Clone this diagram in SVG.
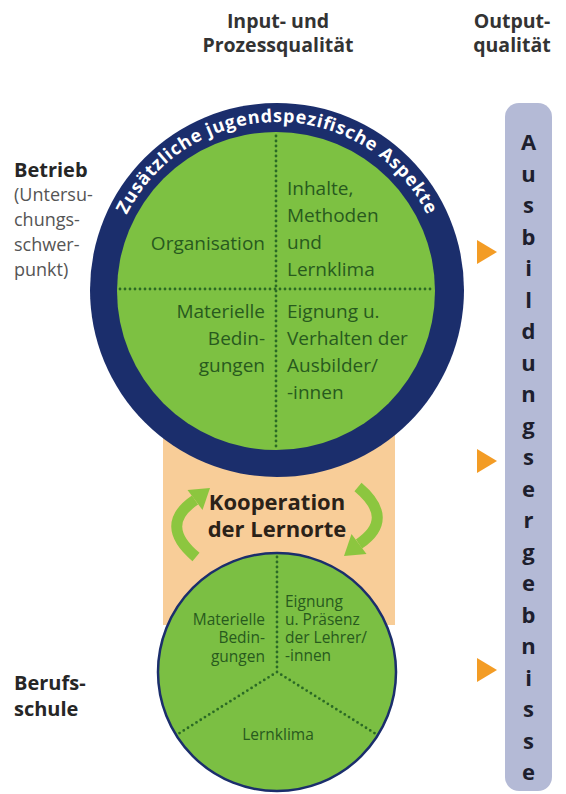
<svg xmlns="http://www.w3.org/2000/svg" xmlns:xlink="http://www.w3.org/1999/xlink" width="566" height="794" viewBox="0 0 566 794">
  <style>
    text { font-family: "Open Sans", "Noto Sans", "DejaVu Sans", sans-serif; }
    .hdr { font-size: 19.5px; font-weight: 700; fill: #333333; text-anchor: middle; }
    .side-b { font-size: 20px; font-weight: 700; fill: #262626; }
    .side { font-size: 18px; fill: #555555; }
    .big { font-size: 19px; fill: #285a1e; }
    .small { font-size: 15.5px; fill: #285a1e; }
    .end { text-anchor: end; }
    .mid { text-anchor: middle; }
    .ring { font-size: 18px; font-weight: 700; fill: #ffffff; }
    .coop { font-size: 22px; font-weight: 700; fill: #2b2218; text-anchor: middle; }
    .bar { font-size: 22px; font-weight: 700; fill: #1e1f2e; text-anchor: middle; }
    .dots { stroke: #2b6a25; stroke-width: 2.8; stroke-linecap: round; stroke-dasharray: 0 5; fill: none; }
    .tri { fill: #f39c25; }
    .cyc { stroke: #8cc63f; stroke-width: 11; fill: none; }
    .cyc-head { fill: #8cc63f; }
  </style>
  <defs>
    <path id="ringArc" d="M 109 290 A 168 168 0 0 1 445 290"/>
    <g id="cycleArrow">
      <path class="cyc" d="M 196 557 Q 158 525 195 500"/>
      <polygon class="cyc-head" points="202.5,510 187.5,490 210,488"/>
    </g>
  </defs>

  <!-- column headings -->
  <g id="headings">
    <text class="hdr" x="278" y="28">Input- und</text>
    <text class="hdr" x="278" y="52">Prozessqualität</text>
    <text class="hdr" x="512" y="28">Output-</text>
    <text class="hdr" x="512" y="52">qualität</text>
  </g>

  <!-- row labels -->
  <g id="label-betrieb">
    <text class="side-b" x="14" y="177">Betrieb</text>
    <text class="side" x="14" y="201">(Untersu-</text>
    <text class="side" x="14" y="226">chungs-</text>
    <text class="side" x="14" y="251">schwer-</text>
    <text class="side" x="14" y="276">punkt)</text>
  </g>
  <g id="label-berufsschule">
    <text class="side-b" x="14" y="690">Berufs-</text>
    <text class="side-b" x="14" y="716">schule</text>
  </g>

  <!-- cooperation band between the two learning places -->
  <g id="kooperation">
    <rect x="163" y="400" width="232" height="225" fill="#f8cd98"/>
    <use xlink:href="#cycleArrow"/>
    <use xlink:href="#cycleArrow" transform="rotate(180 277 522)"/>
    <text class="coop" x="277" y="510">Kooperation</text>
    <text class="coop" x="277" y="537">der Lernorte</text>
  </g>

  <!-- company circle -->
  <g id="betrieb">
    <circle cx="277" cy="290" r="187" fill="#1b2e6c"/>
    <circle cx="276" cy="291" r="159" fill="#7dc142"/>
    <text class="ring"><textPath xlink:href="#ringArc" startOffset="50%" text-anchor="middle" textLength="372" lengthAdjust="spacing">Zusätzliche jugendspezifische Aspekte</textPath></text>
    <line class="dots" x1="276" y1="136" x2="276" y2="447"/>
    <line class="dots" x1="120" y1="289" x2="432" y2="289"/>
    <text class="big end" x="265" y="250">Organisation</text>
    <text class="big" x="287" y="195">Inhalte,</text>
    <text class="big" x="287" y="222">Methoden</text>
    <text class="big" x="287" y="249">und</text>
    <text class="big" x="287" y="276">Lernklima</text>
    <text class="big end" x="265" y="318">Materielle</text>
    <text class="big end" x="265" y="345">Bedin-</text>
    <text class="big end" x="265" y="372">gungen</text>
    <text class="big" x="287" y="318">Eignung u.</text>
    <text class="big" x="287" y="345">Verhalten der</text>
    <text class="big" x="287" y="372">Ausbilder/</text>
    <text class="big" x="287" y="399">-innen</text>
  </g>

  <!-- vocational school circle -->
  <g id="berufsschule">
    <circle cx="277" cy="672" r="119" fill="#7bbf43" stroke="#1b2e6c" stroke-width="2.5"/>
    <path class="dots" d="M 277 557 L 277 672 M 277 672 L 178 734 M 277 672 L 376 734"/>
    <text class="small end" x="265" y="625">Materielle</text>
    <text class="small end" x="265" y="643">Bedin-</text>
    <text class="small end" x="265" y="662">gungen</text>
    <text class="small" x="285" y="607">Eignung</text>
    <text class="small" x="285" y="625">u. Präsenz</text>
    <text class="small" x="285" y="643">der Lehrer/</text>
    <text class="small" x="285" y="661">-innen</text>
    <text class="small mid" x="278" y="740">Lernklima</text>
  </g>

  <!-- arrows into the outcome column -->
  <g id="connectors">
    <polygon class="tri" points="477,240 497,252 477,264"/>
    <polygon class="tri" points="477,449 497,461 477,473"/>
    <polygon class="tri" points="477,658 497,670 477,682"/>
  </g>

  <!-- outcome column -->
  <g id="ausbildungsergebnisse">
    <rect x="505" y="103" width="47" height="688" rx="14" fill="#b4bad6"/>
    <text class="bar" x="528.5" y="150">A</text>
    <text class="bar" x="528.5" y="181.5">u</text>
    <text class="bar" x="528.5" y="213">s</text>
    <text class="bar" x="528.5" y="244.5">b</text>
    <text class="bar" x="528.5" y="276">i</text>
    <text class="bar" x="528.5" y="307.5">l</text>
    <text class="bar" x="528.5" y="339">d</text>
    <text class="bar" x="528.5" y="370.5">u</text>
    <text class="bar" x="528.5" y="402">n</text>
    <text class="bar" x="528.5" y="433.5">g</text>
    <text class="bar" x="528.5" y="465">s</text>
    <text class="bar" x="528.5" y="496.5">e</text>
    <text class="bar" x="528.5" y="528">r</text>
    <text class="bar" x="528.5" y="559.5">g</text>
    <text class="bar" x="528.5" y="591">e</text>
    <text class="bar" x="528.5" y="622.5">b</text>
    <text class="bar" x="528.5" y="654">n</text>
    <text class="bar" x="528.5" y="685.5">i</text>
    <text class="bar" x="528.5" y="717">s</text>
    <text class="bar" x="528.5" y="748.5">s</text>
    <text class="bar" x="528.5" y="780">e</text>
  </g>
</svg>
